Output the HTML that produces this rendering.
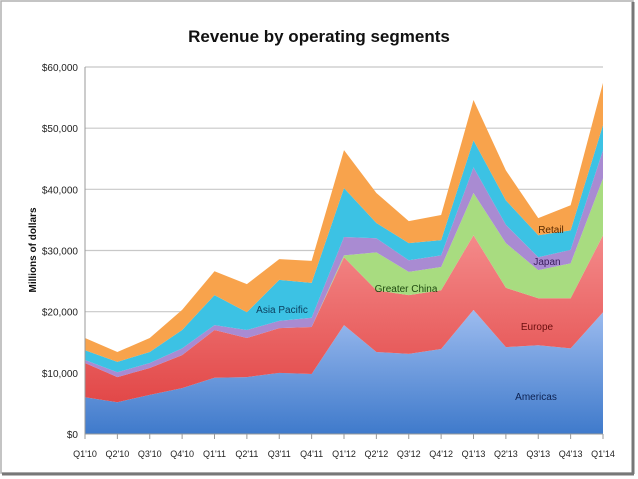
<!DOCTYPE html>
<html><head><meta charset="utf-8"><style>
body{margin:0;background:#fff;}
svg{display:block;font-family:"Liberation Sans",sans-serif;}
</style></head><body>
<svg id="chart" width="638" height="479">
<defs>
<linearGradient id="gA" x1="0" y1="0" x2="0" y2="1"><stop offset="0" stop-color="#9dbcef"/><stop offset="1" stop-color="#3f7acb"/></linearGradient>
<linearGradient id="gE" x1="0" y1="0" x2="0" y2="1"><stop offset="0" stop-color="#f48a8a"/><stop offset="1" stop-color="#e24848"/></linearGradient>
</defs>
<rect x="1" y="1" width="632" height="472" fill="#fff" stroke="#b0b0b0" stroke-width="1.5"/>
<line x1="633" y1="2" x2="633" y2="474" stroke="#777" stroke-width="3"/>
<line x1="2" y1="474" x2="634" y2="474" stroke="#777" stroke-width="3"/>
<text x="319" y="42" text-anchor="middle" font-size="17" font-weight="bold" fill="#111">Revenue by operating segments</text>
<text transform="translate(36,250) rotate(-90)" text-anchor="middle" font-size="10" font-weight="bold" fill="#111">Millions of dollars</text>
<g id="grid"></g><g id="areas"></g><g id="axes"></g><g id="labels"></g>
</svg>
<script>
const categories=["Q1'10","Q2'10","Q3'10","Q4'10","Q1'11","Q2'11","Q3'11","Q4'11","Q1'12","Q2'12","Q3'12","Q4'12","Q1'13","Q2'13","Q3'13","Q4'13","Q1'14"];
const americas=[6.0,5.2,6.4,7.5,9.2,9.3,10.0,9.8,17.8,13.4,13.1,13.9,20.3,14.2,14.5,14.0,19.9];
const europe=[5.6,4.1,4.4,5.4,7.8,6.4,7.3,7.7,11.1,10.1,9.6,9.6,12.2,9.7,7.7,8.2,12.6];
const greaterChina=[0,0,0,0,0,0,0,0,0.3,6.2,3.8,3.8,6.9,7.3,4.6,5.7,9.3];
const japan=[0.5,0.8,0.8,1.1,0.8,1.3,1.2,1.5,3.0,2.3,1.9,1.9,4.2,3.0,2.1,2.2,4.6];
const asiaPacific=[1.6,1.7,1.8,3.0,4.9,2.9,6.7,5.7,8.0,2.5,2.8,2.5,4.4,4.0,3.6,3.2,4.1];
const retail=[2.0,1.6,2.3,3.3,3.9,4.6,3.4,3.6,6.2,4.9,3.6,4.1,6.6,4.9,2.8,4.1,6.9];
const yTicks=[0,10,20,30,40,50,60];
const yTickLabels=["$0","$10,000","$20,000","$30,000","$40,000","$50,000","$60,000"];
const NS="http://www.w3.org/2000/svg";
const X0=85,X1=603,Y0=434,Y1=67;
const x=i=>X0+i*(X1-X0)/(categories.length-1);
const y=v=>Y0-v*(Y0-Y1)/60;
function mk(t,a,p){const e=document.createElementNS(NS,t);for(const k in a)e.setAttribute(k,a[k]);document.getElementById(p).appendChild(e);return e;}
yTicks.forEach((v,i)=>{
 if(v>0){const l=mk('line',{x1:X0,x2:X1,y1:y(v),y2:y(v),stroke:'#c8c8c8','stroke-width':1.2},'grid');
 
 }
 const t=mk('text',{x:78,y:y(v)+4,'text-anchor':'end','font-size':10,fill:'#222'},'axes');t.textContent=yTickLabels[i];
 
 
});
const series=[[americas,'url(#gA)','americas-area'],[europe,'url(#gE)','europe-area'],[greaterChina,'#a8dc80','greater-china-area'],[japan,'#a98bd2','japan-area'],[asiaPacific,'#3cc2e4','asia-pacific-area'],[retail,'#f8a34c','retail-area']];
let base=categories.map(()=>0);
series.forEach(([vals,col,name])=>{
 const top=base.map((b,i)=>b+vals[i]);
 let d='M'+top.map((v,i)=>x(i)+','+y(v)).join(' L');
 for(let i=base.length-1;i>=0;i--)d+=' L'+x(i)+','+y(base[i]);
 const p=mk('path',{d:d+'Z',fill:col},'areas');
 
 
 base=top;
});
mk('line',{x1:X0,x2:X1,y1:Y0,y2:Y0,stroke:'#999'},'axes');
mk('line',{x1:X0,x2:X0,y1:Y1,y2:Y0,stroke:'#999'},'axes');
categories.forEach((c,i)=>{
 mk('line',{x1:x(i),x2:x(i),y1:Y0,y2:Y0+5,stroke:'#999'},'axes');
 const t=mk('text',{x:x(i),y:457,'text-anchor':'middle','font-size':9,fill:'#222'},'axes');t.textContent=c;
 
 
});
[["Asia Pacific",282,313,'#0b3d5c'],["Greater China",406,292,'#1f4a10'],["Retail",551,233,'#5a2a00'],["Japan",547,265,'#3a1d5c'],["Europe",537,330,'#6a0e0e'],["Americas",536,400,'#0c2050']].forEach(([s,lx,ly,c])=>{
 const t=mk('text',{x:lx,y:ly,'text-anchor':'middle','font-size':10,fill:c},'labels');t.textContent=s;
 
 
});
</script>
</body></html>
